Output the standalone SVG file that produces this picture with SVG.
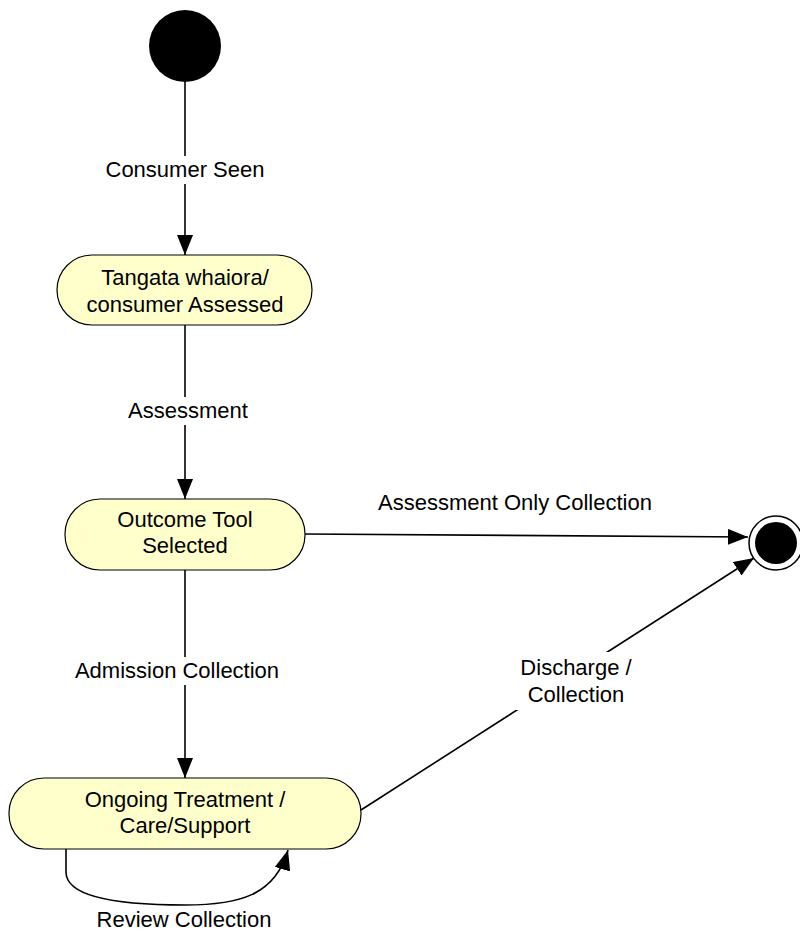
<svg xmlns="http://www.w3.org/2000/svg" width="800" height="932" viewBox="0 0 800 932">
<style>
.node{fill:#ffffcc;stroke:#000;stroke-width:1.2}
.t{font-family:"Liberation Sans",Arial,sans-serif;font-size:22px;fill:#000;text-anchor:middle}
.c{fill:none;stroke:#000;stroke-width:1.6}
.bg{fill:#fff}
</style>
<defs>
<marker id="arr" viewBox="0 0 20 16" refX="20" refY="8" markerWidth="20" markerHeight="16" markerUnits="userSpaceOnUse" orient="auto">
<path d="M0,0 L20,8 L0,16 Z" fill="#000"/>
</marker>
</defs>
<rect width="800" height="932" fill="#fff"/>
<g id="connectors">
<path class="c" d="M185,82 L185,255" marker-end="url(#arr)"/>
<path class="c" d="M185,325 L185,499" marker-end="url(#arr)"/>
<path class="c" d="M185,570 L185,778" marker-end="url(#arr)"/>
<path class="c" d="M305,534 L748,537" marker-end="url(#arr)"/>
<path class="c" d="M361,810 L754,558" marker-end="url(#arr)"/>
<path class="c" d="M66,849 L66,872 C66,895 110,905 185,905 C240,905 275,895 288,850" marker-end="url(#arr)"/>
<g id="labels">
<rect class="bg" x="101" y="156" width="168" height="28"/>
<text class="t" x="185" y="177">Consumer Seen</text>
<rect class="bg" x="122" y="397" width="132" height="28"/>
<text class="t" x="188" y="418">Assessment</text>
<rect class="bg" x="62" y="657" width="230" height="28"/>
<text class="t" x="177" y="678">Admission Collection</text>
<text class="t" x="515" y="510">Assessment Only Collection</text>
<rect class="bg" x="508" y="652" width="138" height="58"/>
<text class="t" x="576" y="675">Discharge /</text>
<text class="t" x="576" y="702">Collection</text>
<text class="t" x="184" y="927">Review Collection</text>
</g>
</g>
<g id="start">
<circle cx="185" cy="46" r="36" fill="#000"/>
</g>
<g id="n1">
<rect class="node" x="57" y="255" width="255" height="70" rx="35"/>
<text class="t" x="185" y="285">Tangata whaiora/</text>
<text class="t" x="185" y="312">consumer Assessed</text>
</g>
<g id="n2">
<rect class="node" x="65" y="499" width="240" height="71" rx="35"/>
<text class="t" x="185" y="527">Outcome Tool</text>
<text class="t" x="185" y="553">Selected</text>
</g>
<g id="n3">
<rect class="node" x="9" y="778" width="352" height="71" rx="35"/>
<text class="t" x="185" y="807">Ongoing Treatment /</text>
<text class="t" x="185" y="833">Care/Support</text>
</g>
<g id="end">
<circle cx="776" cy="543" r="27" fill="#fff" stroke="#000" stroke-width="1.5"/>
<circle cx="776" cy="543" r="21" fill="#000"/>
</g>
</svg>
